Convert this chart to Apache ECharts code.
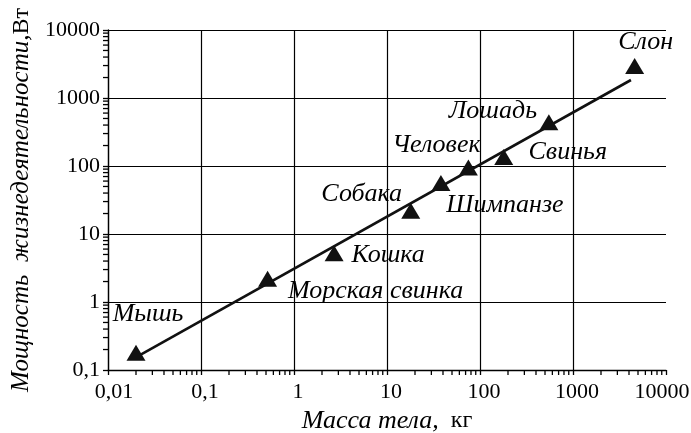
<!DOCTYPE html>
<html>
<head>
<meta charset="utf-8">
<script src="https://cdn.jsdelivr.net/npm/echarts@6/dist/echarts.min.js"></script>
<style>
  html, body { margin: 0; padding: 0; background: #fff; }
  #chart { width: 691px; height: 433px; }
</style>
</head>
<body>
<div id="chart"></div>
<script>
// Body mass vs. metabolic power, log-log
const animals = ['Мышь', 'Морская свинка', 'Кошка', 'Собака', 'Шимпанзе', 'Человек', 'Свинья', 'Лошадь', 'Слон'];
const massKg  = [0.02, 0.52, 2.7, 18, 38, 75, 180, 550, 4600];
const powerW  = [0.18, 2.2, 5.2, 22, 56, 95, 136, 440, 2950];

// Fitted power-law line (two end points)
const fitMass  = [0.022, 4200];
const fitPower = [0.166, 1840];

const xTickValues = [0.01, 0.1, 1, 10, 100, 1000, 10000];
const xTickLabels = ['0,01', '0,1', '1', '10', '100', '1000', '10000'];
const yTickValues = [0.1, 1, 10, 100, 1000, 10000];
const yTickLabels = ['0,1', '1', '10', '100', '1000', '10000'];

// Label placement relative to each marker (pixels)
const labelOffsets = [[12, -38], [108, 12], [54, 2], [-49, -17], [64, 22], [-32, -22], [64, -5], [-56, -11], [11, -24]];

const FONT = '"Liberation Serif", "Times New Roman", serif';

function labelFor(values, labels, v) {
  let best = 0;
  values.forEach((t, i) => {
    if (Math.abs(Math.log10(t) - Math.log10(v)) < Math.abs(Math.log10(values[best]) - Math.log10(v))) best = i;
  });
  return labels[best];
}

// minor tick values 2..9 of every decade
function minorTicks(lo, hi) {
  const out = [];
  for (let d = lo; d < hi; d++) {
    for (let k = 2; k <= 9; k++) out.push(+(k * Math.pow(10, d)).toPrecision(6));
  }
  return out;
}
const xMinor = minorTicks(-2, 4);
const yMinor = minorTicks(-1, 4);

const chart = echarts.init(document.getElementById('chart'), null, { renderer: 'canvas' });

chart.setOption({
  animation: false,
  backgroundColor: '#fff',
  grid: { left: 108, right: 25, top: 30, bottom: 63, containLabel: false, outerBoundsMode: 'none' },
  xAxis: {
    type: 'log',
    logBase: 10,
    min: 0.01,
    max: 10000,
    name: '{i|Масса тела,}{r|  кг}',
    nameLocation: 'middle',
    nameGap: 35,
    nameTextStyle: {
      rich: {
        i: { fontFamily: FONT, fontStyle: 'italic', fontSize: 26, color: '#000' },
        r: { fontFamily: FONT, fontSize: 24, color: '#000' }
      }
    },
    axisLine: { show: true, lineStyle: { color: '#000', width: 1.3 } },
    axisTick: { show: true, inside: false, length: 5, lineStyle: { color: '#000', width: 1.3 } },
    axisLabel: {
      margin: 11,
      fontFamily: FONT,
      fontSize: 22,
      color: '#000',
      formatter: v => {
        const s = labelFor(xTickValues, xTickLabels, v);
        if (s === '10000') return '{last|' + s + '}';
        if (s === '0,01') return '{first|' + s + '}';
        return '{mid|' + s + '}';
      },
      rich: {
        last: { fontFamily: FONT, fontSize: 22, color: '#000', padding: [0, 8, 0, 0] },
        first: { fontFamily: FONT, fontSize: 22, color: '#000', padding: [0, 0, 0, 12] },
        mid: { fontFamily: FONT, fontSize: 22, color: '#000', padding: [0, 0, 0, 8] }
      }
    },
    splitLine: {
      show: true,
      lineStyle: { color: ['#000', '#000', '#000', '#000', '#000', '#000', 'rgba(0,0,0,0)'], width: 1.2 }
    }
  },
  yAxis: {
    type: 'log',
    logBase: 10,
    min: 0.1,
    max: 10000,
    name: '{i|Мощность  жизнедеятельности,}{r|Вт}',
    nameLocation: 'middle',
    nameRotate: 90,
    nameGap: 71,
    nameTextStyle: {
      rich: {
        i: { fontFamily: FONT, fontStyle: 'italic', fontSize: 25, color: '#000' },
        r: { fontFamily: FONT, fontSize: 24, color: '#000' }
      }
    },
    axisLine: { show: true, lineStyle: { color: '#000', width: 1.3 } },
    axisTick: { show: true, inside: false, length: 5, lineStyle: { color: '#000', width: 1.3 } },
    axisLabel: {
      margin: 8,
      fontFamily: FONT,
      fontSize: 22,
      color: '#000',
      formatter: v => labelFor(yTickValues, yTickLabels, v)
    },
    splitLine: { show: true, lineStyle: { color: '#000', width: 1.2 } }
  },
  series: [
    {
      type: 'line',
      data: fitMass.map((m, i) => [m, fitPower[i]]),
      symbol: 'none',
      lineStyle: { color: '#111', width: 2.6 },
      z: 3,
      silent: true
    },
    {
      type: 'scatter',
      symbol: 'triangle',
      symbolSize: [19, 16],
      itemStyle: { color: '#111', opacity: 1 },
      z: 4,
      data: animals.map((name, i) => ({
        name: name,
        value: [massKg[i], powerW[i]],
        label: {
          show: true,
          position: 'inside',
          offset: labelOffsets[i],
          formatter: '{b}',
          fontFamily: FONT,
          fontStyle: 'italic',
          fontSize: 26,
          color: '#000',
          opacity: 1
        }
      }))
    }
  ]
});

// Minor log ticks outside both axes, placed through the axes' own scales
const tickMarks = [];
xMinor.forEach(v => {
  const p = chart.convertToPixel({ gridIndex: 0 }, [v, 0.1]);
  tickMarks.push({ type: 'line', silent: true, z: 10,
    shape: { x1: p[0], y1: p[1], x2: p[0], y2: p[1] + 5 },
    style: { stroke: '#000', lineWidth: 1.3 } });
});
yMinor.forEach(v => {
  const p = chart.convertToPixel({ gridIndex: 0 }, [0.01, v]);
  tickMarks.push({ type: 'line', silent: true, z: 10,
    shape: { x1: p[0] - 5, y1: p[1], x2: p[0], y2: p[1] },
    style: { stroke: '#000', lineWidth: 1.3 } });
});
chart.setOption({ graphic: tickMarks });
</script>
</body>
</html>
